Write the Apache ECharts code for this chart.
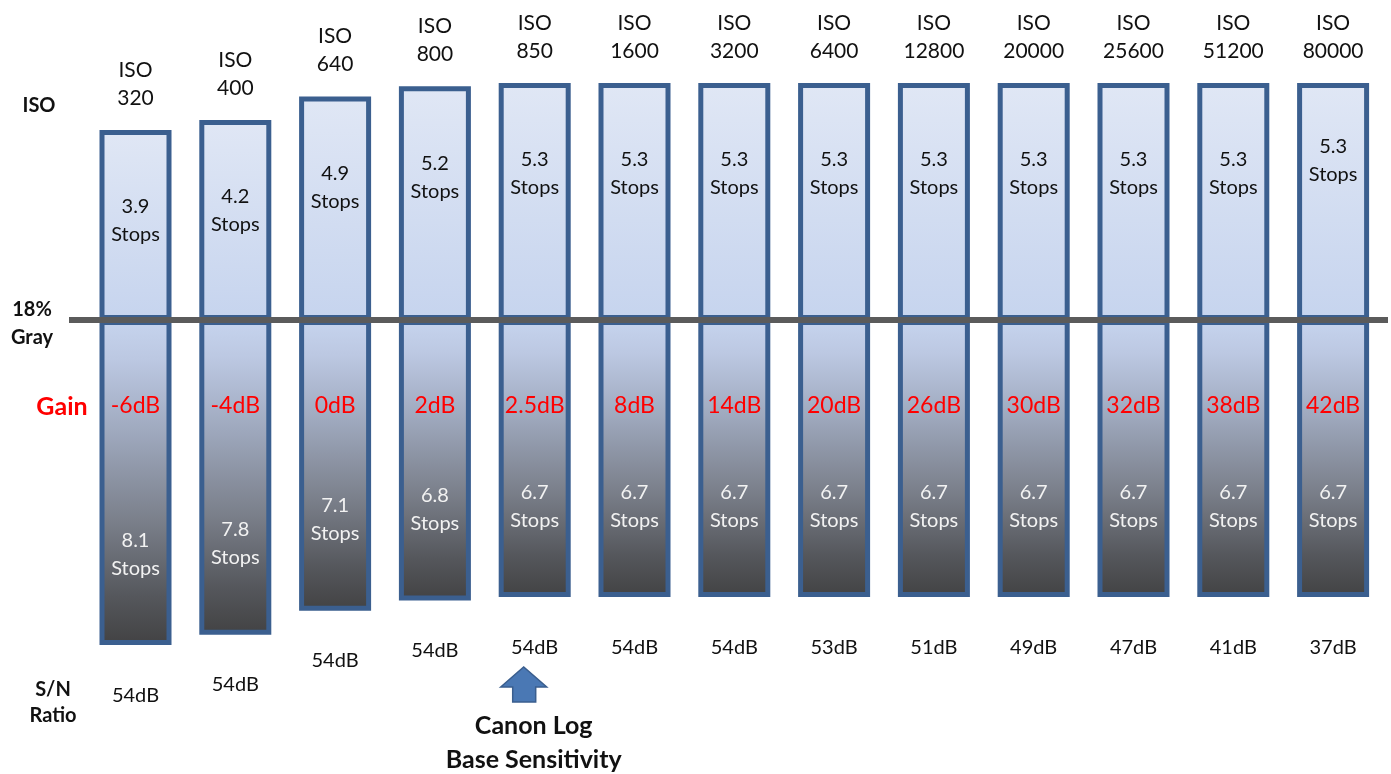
<!DOCTYPE html>
<html>
<head>
<meta charset="utf-8">
<title>ISO / Dynamic Range</title>
<script src="https://cdn.jsdelivr.net/npm/echarts@6/dist/echarts.min.js"></script>
<style>
  html, body { margin: 0; padding: 0; background: #ffffff; }
  #chart { width: 1391px; height: 774px; }
</style>
</head>
<body>
<div id="chart"></div>
<script>
// ISO settings shown as columns
const isoValues = ['320', '400', '640', '800', '850', '1600', '3200', '6400', '12800', '20000', '25600', '51200', '80000'];
// Stops of latitude above 18% gray
const stopsAbove = [3.9, 4.2, 4.9, 5.2, 5.3, 5.3, 5.3, 5.3, 5.3, 5.3, 5.3, 5.3, 5.3];
// Stops of latitude below 18% gray
const stopsBelow = [8.1, 7.8, 7.1, 6.8, 6.7, 6.7, 6.7, 6.7, 6.7, 6.7, 6.7, 6.7, 6.7];
// Gain per ISO setting
const gainLabels = ['-6dB', '-4dB', '0dB', '2dB', '2.5dB', '8dB', '14dB', '20dB', '26dB', '30dB', '32dB', '38dB', '42dB'];
// Signal-to-noise ratio per ISO setting
const snRatio = ['54dB', '54dB', '54dB', '54dB', '54dB', '54dB', '54dB', '53dB', '51dB', '49dB', '47dB', '41dB', '37dB'];

const FONT = 'Lato';
const BORDER = '#3b5f8f';

const chart = echarts.init(document.getElementById('chart'), null, { renderer: 'canvas' });

const upperFill = new echarts.graphic.LinearGradient(0, 0, 0, 1, [
  { offset: 0, color: '#e0e7f5' },
  { offset: 1, color: '#c6d4ee' }
]);
const lowerFill = new echarts.graphic.LinearGradient(0, 0, 0, 1, [
  { offset: 0, color: '#c6d4ee' },
  { offset: 0.12, color: '#bcc8e2' },
  { offset: 0.35, color: '#9ea8bd' },
  { offset: 0.62, color: '#7a7f8a' },
  { offset: 0.85, color: '#55575c' },
  { offset: 1, color: '#424243' }
]);

const gridLeft = 85.6;
const gridRight = 8;
const barW = 72;

// Both stop scales start a little below zero so short columns keep a visible base
const upperStart = -1.76;
const lowerStart = -1.38;

const hiddenCat = (gi) => ({
  type: 'category', gridIndex: gi, data: isoValues,
  show: false, boundaryGap: true
});

// Upper stops labels: the last column sits a little higher
const aboveLabelData = stopsAbove.map((v, i) => i === isoValues.length - 1
  ? { value: v, label: { distance: 50 } }
  : v);

const option = {
  animation: false,
  backgroundColor: '#ffffff',
  grid: [
    { left: gridLeft, right: gridRight, top: 59.5, height: 260.5 },
    { left: gridLeft, right: gridRight, top: 320, height: 338.8 }
  ],
  xAxis: [hiddenCat(0), hiddenCat(1)],
  yAxis: [
    { type: 'value', gridIndex: 0, min: upperStart, max: 6, startValue: upperStart, show: false },
    { type: 'value', gridIndex: 1, min: lowerStart, max: 8.5, startValue: lowerStart, inverse: true, show: false }
  ],
  series: [
    {
      name: 'above', type: 'bar', xAxisIndex: 0, yAxisIndex: 0,
      data: stopsAbove, barWidth: barW,
      itemStyle: { color: upperFill, borderColor: BORDER, borderWidth: 5 },
      label: {
        show: true, position: 'top', distance: 18,
        formatter: (p) => 'ISO\n' + isoValues[p.dataIndex],
        fontFamily: FONT, fontSize: 21, lineHeight: 28, color: '#111111'
      },
      silent: true
    },
    {
      name: 'aboveText', type: 'bar', xAxisIndex: 0, yAxisIndex: 0,
      data: aboveLabelData, barWidth: barW, barGap: '-100%', z: 3,
      itemStyle: { color: 'rgba(0,0,0,0)' },
      label: {
        show: true, position: 'insideTop', distance: 63,
        formatter: (p) => stopsAbove[p.dataIndex].toFixed(1) + '\nStops',
        fontFamily: FONT, fontSize: 20, lineHeight: 28, color: '#111111'
      },
      silent: true
    },
    {
      name: 'below', type: 'bar', xAxisIndex: 1, yAxisIndex: 1,
      data: stopsBelow, barWidth: barW,
      itemStyle: { color: lowerFill, borderColor: BORDER, borderWidth: 5 },
      label: {
        show: true, position: 'insideTop', distance: 73,
        formatter: (p) => gainLabels[p.dataIndex],
        fontFamily: FONT, fontSize: 23, lineHeight: 26, color: '#ff0000'
      },
      silent: true
    },
    {
      name: 'belowText', type: 'bar', xAxisIndex: 1, yAxisIndex: 1,
      data: stopsBelow, barWidth: barW, barGap: '-100%', z: 3,
      itemStyle: { color: 'rgba(0,0,0,0)' },
      label: {
        show: true, position: 'insideBottom', distance: 63,
        formatter: (p) => stopsBelow[p.dataIndex].toFixed(1) + '\nStops',
        fontFamily: FONT, fontSize: 20, lineHeight: 28, color: '#f2f2f2'
      },
      silent: true
    },
    {
      name: 'snr', type: 'bar', xAxisIndex: 1, yAxisIndex: 1,
      data: stopsBelow, barWidth: barW, barGap: '-100%', z: 3,
      itemStyle: { color: 'rgba(0,0,0,0)' },
      label: {
        show: true, position: 'bottom', distance: 38,
        formatter: (p) => snRatio[p.dataIndex],
        fontFamily: FONT, fontSize: 20, lineHeight: 24, color: '#111111'
      },
      silent: true
    }
  ]
};

chart.setOption(option);

// 18% gray reference line at the base of the columns, plus side captions
const grayY = chart.convertToPixel({ gridIndex: 0 }, [0, upperStart])[1];
const baseX = chart.convertToPixel({ xAxisIndex: 0 }, isoValues[4]);

const sideText = (x, y, text, extra) => Object.assign({
  type: 'text', x: x, y: y, z: 100,
  style: Object.assign({
    text: text, fontFamily: FONT, fontWeight: 'bold', fontSize: 20,
    lineHeight: 28, fill: '#111111', align: 'center', verticalAlign: 'middle'
  }, extra || {})
});

chart.setOption({
  graphic: [
    {
      type: 'line', z: 100,
      shape: { x1: 69, y1: grayY, x2: 1388, y2: grayY },
      style: { stroke: '#5b5b5b', lineWidth: 6 }
    },
    sideText(39, 106, 'ISO'),
    sideText(32, 324, '18%\nGray'),
    sideText(62, 407, 'Gain', { fill: '#ff0000', fontSize: 25 }),
    sideText(53, 703, 'S/N\nRatio', { lineHeight: 26 }),
    {
      type: 'polygon', z: 100,
      shape: {
        points: [
          [baseX - 34, 687], [baseX - 11, 667], [baseX + 12, 687],
          [baseX + 1, 687], [baseX + 1, 702], [baseX - 22, 702], [baseX - 22, 687]
        ]
      },
      style: { fill: '#4a78b4', stroke: '#3a5e8e', lineWidth: 1.5 }
    },
    sideText(baseX - 1, 743, 'Canon Log\nBase Sensitivity', { fontSize: 25, lineHeight: 34 })
  ]
});
</script>
</body>
</html>
